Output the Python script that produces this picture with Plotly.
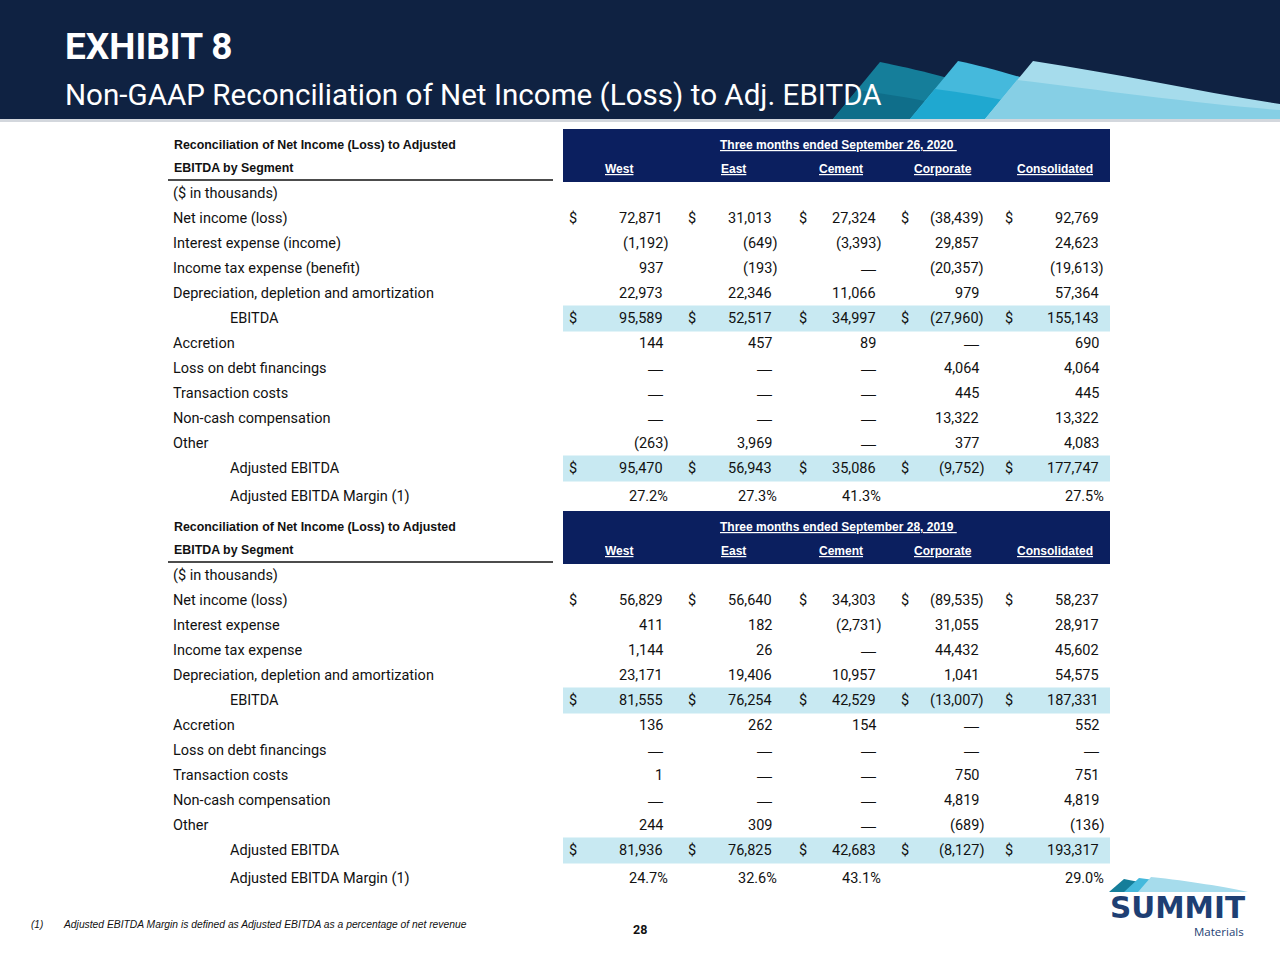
import plotly.graph_objects as go

# ---------------- data ----------------
segments = ["West", "East", "Cement", "Corporate", "Consolidated"]
table_title_1 = "Reconciliation of Net Income (Loss) to Adjusted"
table_title_2 = "EBITDA by Segment"
period_2020 = "Three months ended September 26, 2020"
period_2019 = "Three months ended September 28, 2019"

labels_2020 = ["($ in thousands)", "Net income (loss)", "Interest expense (income)",
               "Income tax expense (benefit)", "Depreciation, depletion and amortization",
               "EBITDA", "Accretion", "Loss on debt financings", "Transaction costs",
               "Non-cash compensation", "Other", "Adjusted EBITDA", "Adjusted EBITDA Margin (1)"]
labels_2019 = ["($ in thousands)", "Net income (loss)", "Interest expense",
               "Income tax expense", "Depreciation, depletion and amortization",
               "EBITDA", "Accretion", "Loss on debt financings", "Transaction costs",
               "Non-cash compensation", "Other", "Adjusted EBITDA", "Adjusted EBITDA Margin (1)"]

# rows 1..11 (None = dash)
west_2020 = [72871, -1192, 937, 22973, 95589, 144, None, None, None, -263, 95470]
east_2020 = [31013, -649, -193, 22346, 52517, 457, None, None, None, 3969, 56943]
cement_2020 = [27324, -3393, None, 11066, 34997, 89, None, None, None, None, 35086]
corporate_2020 = [-38439, 29857, -20357, 979, -27960, None, 4064, 445, 13322, 377, -9752]
consolidated_2020 = [92769, 24623, -19613, 57364, 155143, 690, 4064, 445, 13322, 4083, 177747]
margin_2020 = [27.2, 27.3, 41.3, None, 27.5]

west_2019 = [56829, 411, 1144, 23171, 81555, 136, None, 1, None, 244, 81936]
east_2019 = [56640, 182, 26, 19406, 76254, 262, None, None, None, 309, 76825]
cement_2019 = [34303, -2731, None, 10957, 42529, 154, None, None, None, None, 42683]
corporate_2019 = [-89535, 31055, 44432, 1041, -13007, None, None, 750, 4819, -689, -8127]
consolidated_2019 = [58237, 28917, 45602, 54575, 187331, 552, None, 751, 4819, -136, 193317]
margin_2019 = [24.7, 32.6, 43.1, None, 29.0]

dollar_rows = [1, 5, 11]
indented_rows = [5, 11, 12]
highlight_rows = [5, 11]

footnote_mark = "(1)"
footnote_text = "Adjusted EBITDA Margin is defined as Adjusted EBITDA as a percentage of net revenue"
page_number = "28"
exhibit_title = "EXHIBIT 8"
exhibit_subtitle = "Non-GAAP Reconciliation of Net Income (Loss) to Adj. EBITDA"
logo_word = "SUMMIT"
logo_sub = "Materials"

# ---------------- styling / geometry ----------------
BODY = "Roboto, Liberation Sans, Arial, sans-serif"
ARIAL = "Liberation Sans, Arial, sans-serif"
NAVY_BAND = "#0f2242"
NAVY_BOX = "#0b1f5f"
HILITE = "#c8e9f2"
TXT = "#111111"
LOGO_NAVY = "#1e3f73"

LABEL_X = 172
INDENT_X = 229
BOX_X0, BOX_X1 = 563, 1110
DOLLAR_X = [573, 692, 803, 905, 1009]
RIGHT_X = [664, 773, 877, 980, 1100]
PAREN_SHIFT = 5
HEADER_X = [619, 733, 841, 943, 1055]
ROW_STEP = 25
LABEL_SIZE = 14.5
VALUE_SIZE = 14.5

tables = [
    dict(top=129, period=period_2020, labels=labels_2020,
         cols=[west_2020, east_2020, cement_2020, corporate_2020, consolidated_2020],
         margin=margin_2020),
    dict(top=511, period=period_2019, labels=labels_2019,
         cols=[west_2019, east_2019, cement_2019, corporate_2019, consolidated_2019],
         margin=margin_2019),
]


def fmt(v):
    if v is None:
        return "—"
    if v < 0:
        return f"({abs(v):,})"
    return f"{v:,}"


fig = go.Figure()
ann = []
shapes = []


def text(x, y, s, size, family=BODY, color=TXT, xanchor="left", yanchor="middle"):
    ann.append(dict(x=x, y=y, xref="x", yref="y", text=s, showarrow=False,
                    xanchor=xanchor, yanchor=yanchor, borderpad=0,
                    font=dict(family=family, size=size, color=color)))


def path_shape(path, col):
    shapes.append(dict(type="path", xref="x", yref="y", path=path, fillcolor=col,
                       line_width=0, layer="below"))


# header band
shapes.append(dict(type="rect", xref="x", yref="y", x0=0, x1=1280, y0=0, y1=119,
                   fillcolor=NAVY_BAND, line_width=0, layer="below"))
shapes.append(dict(type="rect", xref="x", yref="y", x0=0, x1=1280, y0=119, y1=122,
                   fillcolor="#d3d7dd", line_width=0, layer="below"))
path_shape("M 833 119 L 880 62 C 920 70, 990 86, 1060 119 Z", "#157e9a")
path_shape("M 833 119 L 857 90 C 900 96, 950 104, 1000 119 Z", "#0f6e8a")
path_shape("M 910 119 L 958 61 C 995 69, 1060 86, 1130 119 Z", "#45b9dc")
path_shape("M 910 119 L 935 89 C 980 95, 1030 104, 1080 119 Z", "#1fa8d0")
path_shape("M 985 119 L 1033 61 C 1120 74, 1200 92, 1280 104 L 1280 119 Z", "#a6dcec")
path_shape("M 985 119 L 1017 80 C 1100 90, 1200 104, 1280 110 L 1280 119 Z", "#86cfe5")

text(64, 46, f"<b>{exhibit_title}</b>", 37, color="white")
text(64, 95, exhibit_subtitle, 29.6, color="white")

for t in tables:
    top = t["top"]
    # navy header box
    shapes.append(dict(type="rect", xref="x", yref="y", x0=BOX_X0, x1=BOX_X1,
                       y0=top, y1=top + 53, fillcolor=NAVY_BOX, line_width=0, layer="below"))
    # left title + rule
    text(LABEL_X + 1, top + 16, f"<b>{table_title_1}</b>", 12.4, family=ARIAL)
    text(LABEL_X + 1, top + 39, f"<b>{table_title_2}</b>", 12.4, family=ARIAL)
    shapes.append(dict(type="line", xref="x", yref="y", x0=168, x1=553,
                       y0=top + 51, y1=top + 51, line=dict(color="#111111", width=1.5)))
    text((BOX_X0 + BOX_X1) / 2 + 2, top + 16, f"<b><u>{t['period']} </u></b>", 12,
         family=ARIAL, color="white", xanchor="center")
    for hx, seg in zip(HEADER_X, segments):
        text(hx, top + 40, f"<b><u>{seg}</u></b>", 12, family=ARIAL, color="white",
             xanchor="center")

    def row_y(i):
        if i <= 11:
            return top + 64 + i * ROW_STEP
        return top + 64 + 11 * ROW_STEP + 28

    for i in highlight_rows:
        y = row_y(i)
        shapes.append(dict(type="rect", xref="x", yref="y", x0=BOX_X0, x1=BOX_X1,
                           y0=y - 12.5, y1=y + 13.5, fillcolor=HILITE, line_width=0,
                           layer="below"))

    for i, lab in enumerate(t["labels"]):
        x = INDENT_X if i in indented_rows else LABEL_X
        text(x, row_y(i), lab, LABEL_SIZE)

    for c, col in enumerate(t["cols"]):
        for k, v in enumerate(col):
            i = k + 1
            y = row_y(i)
            s = fmt(v)
            if v is None:
                text(RIGHT_X[c], y, s, 15, family=ARIAL, xanchor="right")
            else:
                x = RIGHT_X[c] + (PAREN_SHIFT if v < 0 else 0)
                text(x, y, s, VALUE_SIZE, xanchor="right")
            if i in dollar_rows:
                text(DOLLAR_X[c], y, "$", VALUE_SIZE, xanchor="center")
    for c, m in enumerate(t["margin"]):
        if m is None:
            continue
        text(RIGHT_X[c] + PAREN_SHIFT, row_y(12), f"{m:.1f}%", VALUE_SIZE, xanchor="right")

# footnote + page number
text(30, 924, f"<i>{footnote_mark}</i>", 10, family=ARIAL)
text(62, 924, f"<i>{footnote_text}</i>", 10.3, family=ARIAL)
text(640, 929, f"<b>{page_number}</b>", 12.5, family=BODY, xanchor="center")

# logo
path_shape("M 1109 892 L 1124 879 C 1140 882, 1160 887, 1180 892 Z", "#157e9a")
path_shape("M 1124 892 L 1139 878 C 1165 881, 1190 887, 1212 892 Z", "#45b9dc")
path_shape("M 1138 892 L 1151 877 C 1190 881, 1225 887, 1248 892 Z", "#a6dcec")
text(1177, 908, f"<b>{logo_word}</b>", 29.5, family="DejaVu Sans, sans-serif",
     color=LOGO_NAVY, xanchor="center")
text(1245, 931, logo_sub, 11.5, family="Open Sans, sans-serif", color=LOGO_NAVY,
     xanchor="right")

fig.update_layout(
    width=1280, height=960,
    margin=dict(l=0, r=0, t=0, b=0),
    paper_bgcolor="white", plot_bgcolor="white",
    xaxis=dict(range=[0, 1280], visible=False, fixedrange=True),
    yaxis=dict(range=[960, 0], visible=False, fixedrange=True),
    annotations=ann, shapes=shapes, showlegend=False,
)
fig.write_html("out.html", config={"displayModeBar": False},
               post_script="document.body.style.margin='0';")
